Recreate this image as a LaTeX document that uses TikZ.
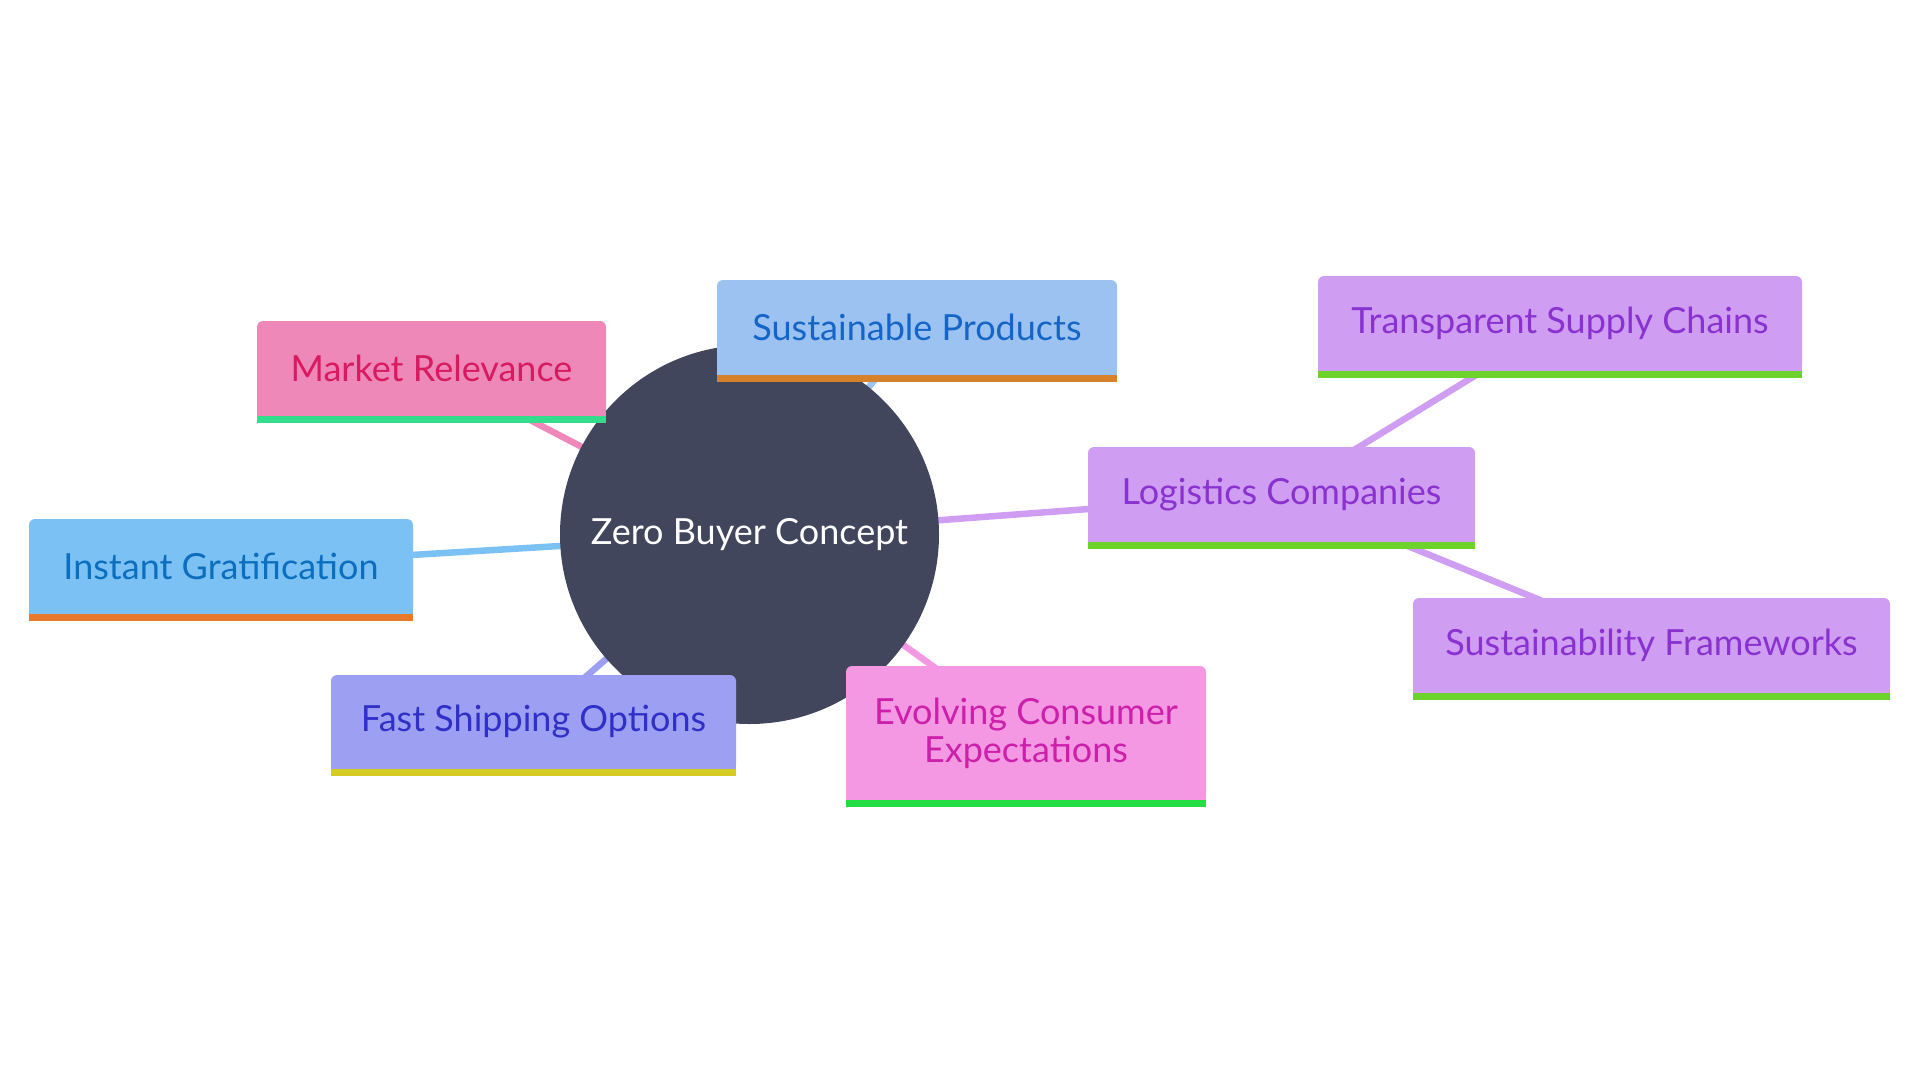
\documentclass[tikz,border=0pt]{standalone}
\usepackage{fontspec}
\setmainfont{Lato}
\usetikzlibrary{backgrounds}
\definecolor{circ}{HTML}{41465D}
\definecolor{mrF}{HTML}{EE88B8}\definecolor{mrT}{HTML}{D81B60}\definecolor{mrB}{HTML}{33DD8C}
\definecolor{spF}{HTML}{9BC2F0}\definecolor{spT}{HTML}{1565C8}\definecolor{spB}{HTML}{D6822A}
\definecolor{igF}{HTML}{7BC1F4}\definecolor{igT}{HTML}{0B6EBF}\definecolor{igB}{HTML}{E87B2B}
\definecolor{fsF}{HTML}{9DA0F2}\definecolor{fsT}{HTML}{3030C8}\definecolor{fsB}{HTML}{D4CC22}
\definecolor{evF}{HTML}{F498E4}\definecolor{evT}{HTML}{CC1FAA}\definecolor{evB}{HTML}{22DD44}
\definecolor{puF}{HTML}{CF9DF2}\definecolor{puT}{HTML}{8A32D0}\definecolor{puB}{HTML}{6BD32A}
\newcommand{\zbar}[3]{%
  \fill[#2] ([yshift=8pt]#1.south west) rectangle (#1.south east);
  \fill[#3] (#1.south west) rectangle ([yshift=-7pt]#1.south east);}
\tikzset{
  box/.style={rectangle, rounded corners=6pt, inner sep=0pt, align=center,
    font=\fontsize{36}{38}\selectfont},
  edge/.style={line width=6.5pt},
}
\begin{document}
\begin{tikzpicture}[x=1pt,y=-1pt]
\useasboundingbox (0,0) rectangle (1920,1080);
\node[circle, fill=circ, minimum size=379pt, inner sep=0pt, text=white,
  font=\fontsize{36}{38}\selectfont] (c) at (749.5,534.5) {Zero Buyer Concept};
\node[box, fill=mrF, text=mrT, minimum width=349pt, minimum height=95pt] (mr) at (431.5,368.5) {Market Relevance};
\node[box, fill=spF, text=spT, minimum width=400pt, minimum height=95pt] (sp) at (917,327.5) {Sustainable Products};
\node[box, fill=igF, text=igT, minimum width=384pt, minimum height=95pt] (ig) at (221,566.5) {Instant Gratification};
\node[box, fill=fsF, text=fsT, minimum width=405pt, minimum height=94pt] (fs) at (533.5,722) {Fast Shipping Options};
\node[box, fill=evF, text=evT, minimum width=360pt, minimum height=134pt] (ev) at (1026,733) {Evolving Consumer\\Expectations};
\node[box, fill=puF, text=puT, minimum width=387pt, minimum height=95pt] (lc) at (1281.5,494.5) {Logistics Companies};
\node[box, fill=puF, text=puT, minimum width=484pt, minimum height=95pt] (ts) at (1560,323.5) {Transparent Supply Chains};
\node[box, fill=puF, text=puT, minimum width=477pt, minimum height=95pt] (sf) at (1651.5,645.5) {Sustainability Frameworks};
\zbar{mr}{mrF}{mrB}
\zbar{sp}{spF}{spB}
\zbar{ig}{igF}{igB}
\zbar{fs}{fsF}{fsB}
\zbar{ev}{evF}{evB}
\zbar{lc}{puF}{puB}
\zbar{ts}{puF}{puB}
\zbar{sf}{puF}{puB}
\begin{scope}[on background layer]
\draw[edge, mrF] (c.center) -- (mr.center);
\draw[edge, spF] (c.center) -- (sp.center);
\draw[edge, igF] (c.center) -- (ig.center);
\draw[edge, fsF] (c.center) -- (fs.center);
\draw[edge, evF] (c.center) -- (ev.center);
\draw[edge, puF] (c.center) -- (lc.center);
\draw[edge, puF] (lc.center) -- (ts.center);
\draw[edge, puF] (lc.center) -- (sf.center);
\end{scope}
\end{tikzpicture}
\end{document}
